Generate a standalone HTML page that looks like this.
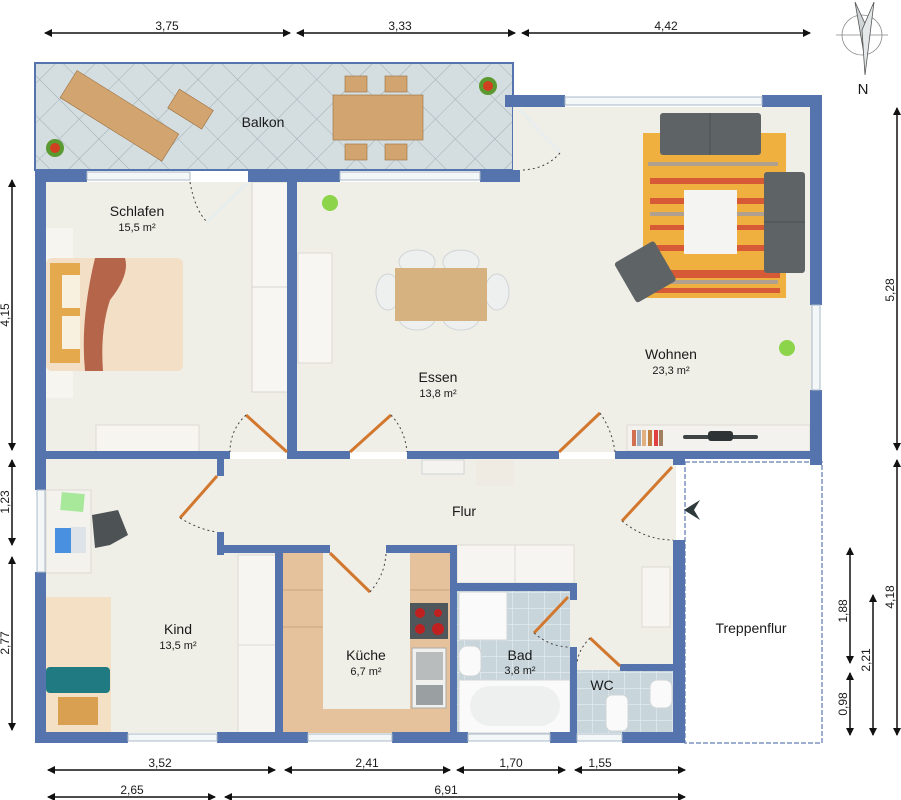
<!DOCTYPE html>
<html><head><meta charset="utf-8"><style>
html,body{margin:0;padding:0;background:#fff;}
svg{display:block;}
text{font-family:"Liberation Sans",sans-serif;fill:#1a1a1a;}
</style></head><body>
<svg width="901" height="800" viewBox="0 0 901 800" xmlns="http://www.w3.org/2000/svg">
<defs>
<pattern id="tile" width="28" height="28" patternUnits="userSpaceOnUse" patternTransform="rotate(45)">
<rect width="28" height="28" fill="#d4dde0"/><path d="M0 0H28M0 0V28" stroke="#9fb0b6" stroke-width="1"/>
</pattern>
<pattern id="sq" width="16" height="16" patternUnits="userSpaceOnUse">
<rect width="16" height="16" fill="#c8d6dc"/><path d="M0 0H16M0 0V16" stroke="#e8eef0" stroke-width="1.2"/>
</pattern>
<marker id="ar" markerWidth="8" markerHeight="8" refX="7" refY="4" orient="auto-start-reverse" markerUnits="userSpaceOnUse"><path d="M0 0L8 4L0 8Z" fill="#111"/></marker>
</defs>

<!-- floors -->
<rect x="35" y="63" width="478" height="107" fill="url(#tile)" stroke="#5573ad" stroke-width="2"/>
<rect x="46" y="182" width="766" height="270" fill="#efeee7"/>
<rect x="513" y="107" width="299" height="345" fill="#efeee7"/>
<rect x="46" y="459" width="630" height="274" fill="#efeee7"/>
<rect x="283" y="553" width="167" height="180" fill="#efeee7"/>
<rect x="457" y="590" width="113" height="143" fill="url(#sq)"/>
<rect x="577" y="670" width="97" height="63" fill="url(#sq)"/>
<rect x="685" y="462" width="137" height="281" fill="#fff" stroke="#7d93c0" stroke-width="1.5" stroke-dasharray="5,2"/>

<!-- balcony furniture -->
<g fill="#d2a46f" stroke="#9a7040" stroke-width="0.6">
<g transform="rotate(32 120 115)"><rect x="60" y="100" width="120" height="32"/></g>
<g transform="rotate(32 190 110)"><rect x="170" y="98" width="40" height="22"/></g>
<rect x="333" y="95" width="90" height="45"/>
<rect x="345" y="76" width="22" height="16"/><rect x="385" y="76" width="22" height="16"/>
<rect x="345" y="144" width="22" height="16"/><rect x="385" y="144" width="22" height="16"/>
</g>
<circle cx="55" cy="148" r="9" fill="#5a9a30"/><circle cx="55" cy="148" r="5" fill="#d04020"/>
<circle cx="488" cy="86" r="9" fill="#5a9a30"/><circle cx="488" cy="86" r="5" fill="#d04020"/>
<text x="263" y="127" font-size="14" text-anchor="middle">Balkon</text>

<!-- Schlafen furniture -->
<rect x="252" y="182" width="36" height="210" fill="#f7f6f2" stroke="#d8d6ce"/>
<line x1="252" y1="287" x2="288" y2="287" stroke="#d8d6ce"/>
<rect x="46" y="228" width="27" height="170" fill="#f6f5f0"/>
<rect x="46" y="258" width="137" height="113" rx="6" fill="#f3dfc6"/>
<path d="M95 258 L125 258 Q130 275 110 300 Q100 330 103 371 L85 371 Q80 320 95 258Z" fill="#b5654a"/>
<rect x="50" y="263" width="30" height="100" fill="#e4a94d"/>
<rect x="62" y="275" width="18" height="33" fill="#f8f1df"/><rect x="62" y="316" width="18" height="33" fill="#f8f1df"/>
<rect x="96" y="425" width="103" height="27" fill="#f6f5f0" stroke="#dddbd2"/>
<text x="137" y="216" font-size="14" text-anchor="middle">Schlafen</text>
<text x="137" y="231" font-size="11" text-anchor="middle">15,5 m²</text>

<!-- Essen -->
<rect x="298" y="253" width="34" height="110" fill="#f7f6f2" stroke="#dddbd2"/>
<g fill="#eef0f0" stroke="#cfd4d6">
<ellipse cx="417" cy="262" rx="18" ry="12"/><ellipse cx="461" cy="262" rx="18" ry="12"/>
<ellipse cx="417" cy="318" rx="18" ry="12"/><ellipse cx="461" cy="318" rx="18" ry="12"/>
<ellipse cx="388" cy="292" rx="12" ry="18"/><ellipse cx="497" cy="292" rx="12" ry="18"/>
</g>
<rect x="395" y="268" width="92" height="53" fill="#d6b280"/>
<circle cx="330" cy="203" r="8" fill="#8cd44a"/>
<text x="438" y="382" font-size="14" text-anchor="middle">Essen</text>
<text x="438" y="397" font-size="11" text-anchor="middle">13,8 m²</text>

<!-- Wohnen -->
<rect x="643" y="133" width="143" height="165" fill="#f0b040"/>
<g fill="#d65a35"><rect x="650" y="178" width="120" height="6"/><rect x="650" y="198" width="130" height="6"/><rect x="650" y="225" width="120" height="5"/><rect x="650" y="245" width="130" height="6"/><rect x="655" y="270" width="125" height="8"/><rect x="655" y="288" width="125" height="5"/></g>
<g fill="#b0a090"><rect x="648" y="162" width="130" height="4"/><rect x="650" y="212" width="120" height="4"/><rect x="660" y="280" width="118" height="4"/></g>
<rect x="660" y="113" width="101" height="42" rx="3" fill="#5e6466"/>
<line x1="710" y1="113" x2="710" y2="155" stroke="#4a5052"/>
<rect x="764" y="172" width="41" height="101" rx="3" fill="#5e6466"/>
<line x1="764" y1="222" x2="805" y2="222" stroke="#4a5052"/>
<g transform="rotate(-30 643 272)"><rect x="622" y="250" width="46" height="46" rx="3" fill="#5e6466"/></g>
<rect x="684" y="190" width="53" height="64" fill="#f4f4f2"/>
<circle cx="787" cy="348" r="8" fill="#8cd44a"/>
<rect x="627" y="425" width="183" height="26" fill="#f3f2ee" stroke="#dddbd2"/>
<g><rect x="632" y="430" width="4" height="16" fill="#d07050"/><rect x="637" y="430" width="4" height="16" fill="#a0b0c0"/><rect x="642" y="430" width="4" height="16" fill="#e0b080"/><rect x="648" y="430" width="4" height="16" fill="#c08040"/><rect x="654" y="430" width="4" height="16" fill="#e04040"/><rect x="659" y="430" width="4" height="16" fill="#a08060"/></g>
<rect x="683" y="435" width="75" height="4" rx="2" fill="#3e4446"/><rect x="708" y="431" width="25" height="10" rx="3" fill="#2e3436"/>
<text x="671" y="359" font-size="14" text-anchor="middle">Wohnen</text>
<text x="671" y="374" font-size="11" text-anchor="middle">23,3 m²</text>

<!-- Flur -->
<rect x="422" y="460" width="42" height="14" fill="#f4f3ef" stroke="#cfd4d4"/>
<rect x="476" y="460" width="38" height="26" fill="#efebe2"/>
<rect x="457" y="545" width="117" height="38" fill="#f6f5f1" stroke="#dcdbd3"/>
<line x1="515" y1="545" x2="515" y2="583" stroke="#dcdbd3"/>
<rect x="642" y="567" width="28" height="60" fill="#f6f5f1" stroke="#dcdbd3"/>
<path d="M700 500 L684 510 L700 520 L694 510Z" fill="#2e3a3c"/>
<text x="464" y="516" font-size="14" text-anchor="middle">Flur</text>

<!-- Kind -->
<rect x="46" y="490" width="45" height="83" fill="#f3f2ed" stroke="#dddbd2"/>
<rect x="61" y="493" width="23" height="18" fill="#a8e89a" transform="rotate(5 72 502)"/>
<rect x="55" y="528" width="16" height="25" fill="#4a90e0"/><rect x="71" y="527" width="15" height="26" fill="#dde3e8"/>
<path d="M92 515 L118 510 L128 535 L110 545 L95 548Z" fill="#4d5355"/>
<rect x="238" y="555" width="38" height="178" fill="#f6f5f1" stroke="#dddbd2"/>
<line x1="238" y1="645" x2="276" y2="645" stroke="#dddbd2"/>
<rect x="46" y="597" width="65" height="136" fill="#f4e0c4"/>
<rect x="46" y="667" width="64" height="26" rx="4" fill="#1f7a82"/>
<rect x="58" y="697" width="40" height="28" fill="#d8a050"/>
<text x="178" y="634" font-size="14" text-anchor="middle">Kind</text>
<text x="178" y="649" font-size="11" text-anchor="middle">13,5 m²</text>

<!-- Küche -->
<rect x="283" y="553" width="40" height="180" fill="#e6c29c"/>
<rect x="410" y="553" width="40" height="180" fill="#e6c29c"/>
<rect x="323" y="709" width="87" height="24" fill="#e6c29c"/>
<line x1="283" y1="590" x2="323" y2="590" stroke="#c9a47c"/><line x1="283" y1="627" x2="323" y2="627" stroke="#c9a47c"/><line x1="410" y1="590" x2="450" y2="590" stroke="#c9a47c"/>
<rect x="410" y="603" width="38" height="36" fill="#50575a"/>
<g fill="#c02020"><circle cx="420" cy="613" r="5"/><circle cx="438" cy="613" r="4"/><circle cx="420" cy="629" r="5"/><circle cx="438" cy="629" r="6"/></g>
<rect x="412" y="648" width="34" height="60" fill="#f0f0ee" stroke="#aaa"/>
<rect x="416" y="652" width="27" height="28" fill="#b8bcbd"/><rect x="416" y="685" width="27" height="20" fill="#9aa0a2"/>
<text x="366" y="660" font-size="14" text-anchor="middle">Küche</text>
<text x="366" y="675" font-size="11" text-anchor="middle">6,7 m²</text>

<!-- Bad / WC -->
<rect x="459" y="592" width="48" height="48" fill="#fafafa" stroke="#d0d4d6"/>
<rect x="459" y="646" width="22" height="30" rx="8" fill="#fafafa" stroke="#d0d4d6"/>
<rect x="459" y="680" width="111" height="53" fill="#fafafa" stroke="#d0d4d6"/>
<rect x="470" y="686" width="90" height="40" rx="20" fill="#eef0f0"/>
<rect x="650" y="680" width="22" height="28" rx="7" fill="#fafafa" stroke="#d0d4d6"/>
<rect x="606" y="695" width="22" height="36" rx="6" fill="#fafafa" stroke="#d0d4d6"/>
<text x="520" y="660" font-size="14" text-anchor="middle">Bad</text>
<text x="520" y="674" font-size="11" text-anchor="middle">3,8 m²</text>
<text x="602" y="690" font-size="14" text-anchor="middle">WC</text>
<text x="683" y="727" font-size="8" fill="#fff" style="fill:#fff" transform="rotate(-90 683 727)">McGrundriss</text>
<text x="751" y="633" font-size="14" text-anchor="middle">Treppenflur</text>

<!-- walls -->
<g fill="#5573ad">
<rect x="35" y="170" width="52" height="12"/><rect x="248" y="170" width="92" height="12"/><rect x="480" y="170" width="40" height="12"/>
<rect x="505" y="95" width="60" height="12"/><rect x="762" y="95" width="60" height="12"/>
<rect x="810" y="95" width="12" height="210"/><rect x="810" y="390" width="12" height="75"/>
<rect x="35" y="170" width="11" height="320"/><rect x="35" y="572" width="11" height="171"/>
<rect x="35" y="451" width="195" height="8"/><rect x="287" y="451" width="63" height="8"/><rect x="407" y="451" width="152" height="8"/><rect x="615" y="451" width="207" height="8"/>
<rect x="287" y="170" width="10" height="289"/>
<rect x="217" y="451" width="7" height="25"/><rect x="217" y="532" width="7" height="23"/>
<rect x="217" y="545" width="113" height="8"/><rect x="386" y="545" width="71" height="8"/>
<rect x="275" y="545" width="8" height="198"/><rect x="450" y="545" width="7" height="198"/>
<rect x="450" y="583" width="127" height="8"/>
<rect x="570" y="583" width="7" height="17"/><rect x="570" y="647" width="7" height="96"/>
<rect x="620" y="664" width="60" height="7"/>
<rect x="673" y="451" width="12" height="14"/><rect x="673" y="540" width="12" height="203"/>
<rect x="35" y="732" width="93" height="11"/><rect x="217" y="732" width="91" height="11"/><rect x="392" y="732" width="76" height="11"/><rect x="550" y="732" width="27" height="11"/><rect x="622" y="732" width="63" height="11"/>
</g>
<!-- windows -->
<g fill="#f4f7f8" stroke="#aab8c8" stroke-width="1">
<rect x="87" y="172" width="103" height="8"/><rect x="340" y="172" width="140" height="8"/>
<rect x="565" y="97" width="197" height="8"/><rect x="812" y="305" width="8" height="85"/>
<rect x="37" y="490" width="8" height="82"/>
<rect x="128" y="734" width="89" height="7"/><rect x="308" y="734" width="84" height="7"/><rect x="468" y="734" width="82" height="7"/><rect x="577" y="734" width="45" height="7"/>
</g>

<!-- doors -->
<g stroke="#d2772e" stroke-width="3">
<line x1="287" y1="452" x2="246" y2="415"/><line x1="350" y1="452" x2="391" y2="415"/>
<line x1="559" y1="452" x2="600" y2="413"/><line x1="672" y1="467" x2="622" y2="521"/>
<line x1="217" y1="476" x2="180" y2="518"/><line x1="330" y1="553" x2="370" y2="592"/>
<line x1="568" y1="597" x2="534" y2="633"/><line x1="620" y1="666" x2="590" y2="638"/>
</g>
<line x1="248" y1="183" x2="207" y2="222" stroke="#e8eeee" stroke-width="3"/>
<line x1="520" y1="110" x2="560" y2="153" stroke="#e8eeee" stroke-width="3"/>
<g fill="none" stroke="#444" stroke-width="1" stroke-dasharray="2,3">
<path d="M246 415 Q230 430 230 452"/><path d="M391 415 Q405 430 407 452"/><path d="M600 413 Q612 430 615 452"/>
<path d="M622 521 Q645 540 673 540"/><path d="M180 518 Q200 530 217 532"/><path d="M370 592 Q385 575 386 553"/>
<path d="M534 633 Q550 647 570 647"/><path d="M590 638 Q578 650 577 664"/>
<path d="M190 182 Q195 210 207 222"/><path d="M560 153 Q545 170 520 170"/>
</g>

<!-- dimensions -->
<g stroke="#111" stroke-width="1.5" marker-start="url(#ar)" marker-end="url(#ar)">
<line x1="45" y1="33" x2="290" y2="33"/><line x1="297" y1="33" x2="515" y2="33"/><line x1="522" y1="33" x2="810" y2="33"/>
<line x1="12" y1="180" x2="12" y2="450"/><line x1="12" y1="460" x2="12" y2="545"/><line x1="12" y1="557" x2="12" y2="730"/>
<line x1="48" y1="770" x2="275" y2="770"/><line x1="285" y1="770" x2="450" y2="770"/><line x1="457" y1="770" x2="565" y2="770"/><line x1="575" y1="770" x2="685" y2="770"/>
<line x1="48" y1="797" x2="215" y2="797"/><line x1="225" y1="797" x2="685" y2="797"/>
<line x1="897" y1="108" x2="897" y2="450"/><line x1="897" y1="460" x2="897" y2="735"/>
<line x1="873" y1="595" x2="873" y2="735"/><line x1="850" y1="548" x2="850" y2="663"/><line x1="850" y1="673" x2="850" y2="735"/>
</g>
<g font-size="12" text-anchor="middle">
<text x="167" y="30">3,75</text><text x="400" y="30">3,33</text><text x="666" y="30">4,42</text>
<text x="160" y="767">3,52</text><text x="367" y="767">2,41</text><text x="511" y="767">1,70</text><text x="600" y="767">1,55</text>
<text x="132" y="794">2,65</text><text x="446" y="794">6,91</text>
<text transform="translate(9 315) rotate(-90)">4,15</text><text transform="translate(9 502) rotate(-90)">1,23</text><text transform="translate(9 643) rotate(-90)">2,77</text>
<text transform="translate(894 290) rotate(-90)">5,28</text><text transform="translate(894 597) rotate(-90)">4,18</text>
<text transform="translate(870 660) rotate(-90)">2,21</text><text transform="translate(847 611) rotate(-90)">1,88</text><text transform="translate(847 704) rotate(-90)">0,98</text>
</g>

<!-- compass -->
<circle cx="862" cy="35" r="20" fill="none" stroke="#888" stroke-width="0.8"/>
<line x1="836" y1="35" x2="888" y2="35" stroke="#888" stroke-width="0.8"/>
<path d="M855 2 L865 60 L868 30Z" fill="#cfd4d6" stroke="#555" stroke-width="0.8"/>
<path d="M874 2 L865 75 L862 30Z" fill="#e5e8e9" stroke="#555" stroke-width="0.8"/>
<text x="863" y="94" font-size="15" text-anchor="middle">N</text>
</svg>
</body></html>
